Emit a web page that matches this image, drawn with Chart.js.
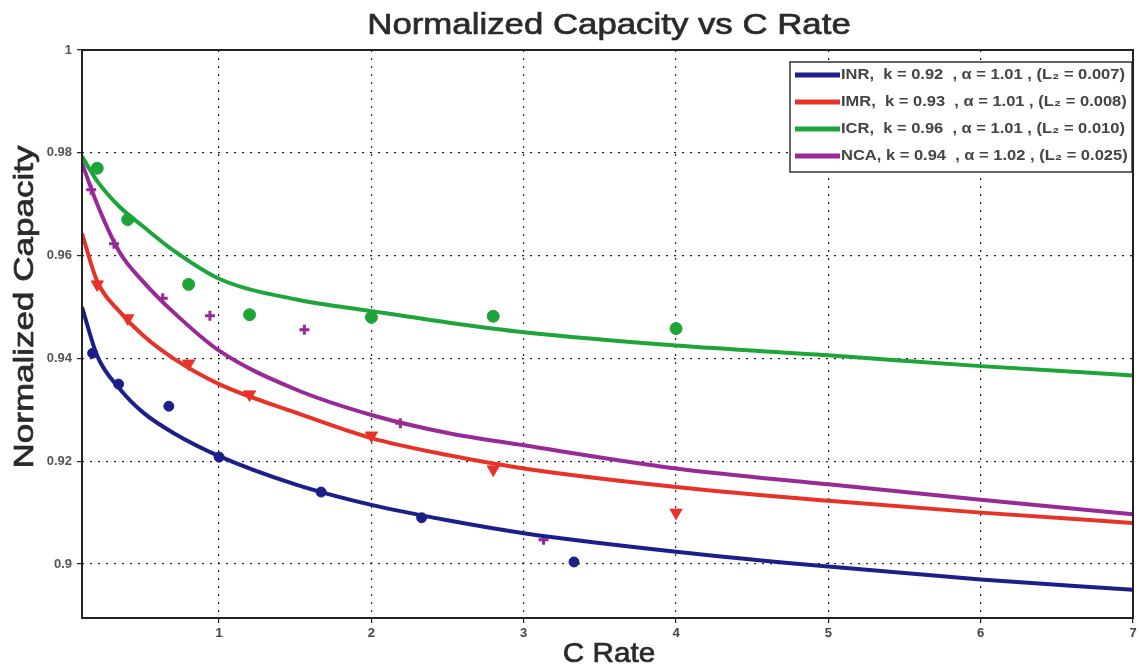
<!DOCTYPE html>
<html>
<head>
<meta charset="utf-8">
<script src="https://cdn.jsdelivr.net/npm/chart.js@4.4.1/dist/chart.umd.min.js"></script>
<style>
  html, body { margin: 0; padding: 0; background: #fff; }
  #myChart { display: block; }
</style>
</head>
<body>
<canvas id="myChart" width="1141" height="667"></canvas>
<script>
// fitted curves
const fitX = [0.1, 0.2, 0.35, 0.5, 0.7, 1, 1.5, 2, 2.5, 3, 4, 5, 6, 7];
const fitInr = [0.950, 0.9405, 0.934, 0.9295, 0.9255, 0.921, 0.9155, 0.9115, 0.9085, 0.906, 0.9024, 0.8995, 0.897, 0.895];
const fitImr = [0.9643, 0.955, 0.949, 0.9445, 0.940, 0.935, 0.9295, 0.9245, 0.9212, 0.9186, 0.915, 0.9123, 0.910, 0.908];
const fitIcr = [0.9793, 0.9745, 0.9694, 0.9657, 0.961, 0.9555, 0.9515, 0.9492, 0.947, 0.9451, 0.9425, 0.9406, 0.9385, 0.9367];
const fitNca = [0.978, 0.970, 0.9605, 0.955, 0.949, 0.9415, 0.934, 0.929, 0.9255, 0.9231, 0.9186, 0.9155, 0.9125, 0.9097];

// measured points
const inrX = [0.17, 0.34, 0.67, 1.0, 1.67, 2.33, 3.33];
const inrY = [0.941, 0.935, 0.9307, 0.9208, 0.914, 0.909, 0.9004];
const imrX = [0.2, 0.4, 0.8, 1.2, 2.0, 2.8, 4.0];
const imrY = [0.9544, 0.9478, 0.939, 0.933, 0.925, 0.9184, 0.910];
const icrX = [0.2, 0.4, 0.8, 1.2, 2.0, 2.8, 4.0];
const icrY = [0.977, 0.967, 0.9544, 0.9485, 0.948, 0.9482, 0.9458];
const ncaX = [0.16, 0.31, 0.63, 0.94, 1.56, 2.19, 3.13];
const ncaY = [0.9728, 0.9623, 0.9517, 0.9483, 0.9456, 0.9274, 0.9047];

const xTicks = [1, 2, 3, 4, 5, 6, 7];
const yTicks = [0.9, 0.92, 0.94, 0.96, 0.98, 1];
const legendLabels = [
  "INR,  k = 0.92  , \u03b1 = 1.01 , (L\u2082 = 0.007)",
  "IMR,  k = 0.93  , \u03b1 = 1.01 , (L\u2082 = 0.008)",
  "ICR,  k = 0.96  , \u03b1 = 1.01 , (L\u2082 = 0.010)",
  "NCA, k = 0.94  , \u03b1 = 1.02 , (L\u2082 = 0.025)"
];
const colors = ["#1c1f8a", "#e83228", "#1ea53a", "#982a98"];

function pts(xs, ys) {
  return xs.map((x, i) => ({ x: x, y: ys[i] }));
}

function fitSet(ys, color, label) {
  return {
    label: label, data: pts(fitX, ys), showLine: true,
    borderColor: color, backgroundColor: color, borderWidth: 4,
    pointRadius: 0, cubicInterpolationMode: "monotone"
  };
}

function markSet(xs, ys, color, style, rot, r, bw) {
  return {
    label: "", data: pts(xs, ys), showLine: false,
    borderColor: color, backgroundColor: color, borderWidth: bw,
    pointStyle: style, rotation: rot, pointRadius: r
  };
}

// text stretched a bit, the reference glyphs are wider than Liberation Sans
function stretchText(ctx, text, x, y, font, sx, rot, weight) {
  ctx.save();
  ctx.translate(x, y);
  ctx.rotate(rot);
  ctx.scale(sx, 1);
  ctx.font = font;
  ctx.fillText(text, 0, 0);
  if (weight) {
    ctx.strokeStyle = ctx.fillStyle;
    ctx.lineWidth = weight;
    ctx.strokeText(text, 0, 0);
  }
  ctx.restore();
}

const titles = {
  id: "titles",
  afterDraw(chart) {
    const ctx = chart.ctx;
    const a = chart.chartArea;
    ctx.save();
    ctx.fillStyle = "#2a2a2a";
    ctx.textAlign = "center";
    ctx.textBaseline = "alphabetic";
    stretchText(ctx, "Normalized Capacity vs C Rate", 609, 34, "30px 'Liberation Sans', Arial", 1.16, 0, 0.7);
    stretchText(ctx, "C Rate", 609, 662, "28px 'Liberation Sans', Arial", 1.06, 0, 0.7);
    stretchText(ctx, "Normalized Capacity", 33, 307, "28px 'Liberation Sans', Arial", 1.25, -Math.PI / 2, 0.7);

    // legend box inside the plot, top right
    const x0 = a.right - 343, y0 = a.top + 12, w = 342, h = 110;
    ctx.fillStyle = "#fff";
    ctx.fillRect(x0, y0, w, h);
    ctx.strokeStyle = "#333";
    ctx.lineWidth = 1.5;
    ctx.strokeRect(x0, y0, w, h);
    ctx.textAlign = "left";
    ctx.textBaseline = "middle";
    legendLabels.forEach((t, i) => {
      const y = y0 + 13 + i * 27;
      ctx.strokeStyle = colors[i];
      ctx.lineWidth = 5;
      ctx.beginPath();
      ctx.moveTo(x0 + 5, y);
      ctx.lineTo(x0 + 50, y);
      ctx.stroke();
      ctx.fillStyle = "#444";
      stretchText(ctx, t, x0 + 51, y, "bold 15px 'Liberation Sans', Arial", 1.1, 0, 0);
    });

    // plot frame
    ctx.strokeStyle = "#222";
    ctx.lineWidth = 2;
    ctx.strokeRect(a.left, a.top, a.right - a.left, a.bottom - a.top);
    ctx.restore();
  }
};

function initChart(target) {
  const data = {
    datasets: [
      fitSet(fitInr, colors[0], "INR"),
      fitSet(fitImr, colors[1], "IMR"),
      fitSet(fitIcr, colors[2], "ICR"),
      fitSet(fitNca, colors[3], "NCA"),
      markSet(inrX, inrY, colors[0], "circle", 0, 5, 1),
      markSet(imrX, imrY, colors[1], "triangle", 180, 7, 1),
      markSet(icrX, icrY, colors[2], "circle", 0, 6, 1),
      markSet(ncaX, ncaY, colors[3], "crossRot", 45, 5, 3)
    ]
  };

  const gridOpts = {
    color: "#222", lineWidth: 1.2, drawTicks: true, tickLength: 5
  };
  const tickFont = { family: "'Liberation Sans Narrow', 'Liberation Sans', Arial", size: 13, weight: "bold" };

  const config = {
    type: "scatter",
    data: data,
    options: {
      responsive: false,
      animation: false,
      layout: { padding: { left: 0, right: 3, top: 50, bottom: 0 } },
      plugins: {
        legend: { display: false },
        tooltip: { enabled: false },
        title: { display: false }
      },
      scales: {
        x: {
          type: "linear", min: 0.1, max: 7,
          afterBuildTicks: (s) => { s.ticks = xTicks.map((v) => ({ value: v })); },
          afterFit: (s) => { s.height = 49; s.paddingRight = 0; s.paddingLeft = 0; },
          grid: gridOpts,
          border: { display: false, dash: [2, 6] },
          ticks: { color: "#444", padding: 3, font: tickFont }
        },
        y: {
          type: "linear", min: 0.8895, max: 1,
          afterBuildTicks: (s) => { s.ticks = yTicks.map((v) => ({ value: v })); },
          afterFit: (s) => { s.width = 82; },
          grid: gridOpts,
          border: { display: false, dash: [2, 6] },
          ticks: {
            color: "#555", padding: 5, font: tickFont,
            callback: (v) => String(Math.round(v * 100) / 100)
          }
        }
      }
    },
    plugins: [titles]
  };

  return new Chart(target, config);
}

function mainEvent() {
  const chartTarget = document.querySelector("#myChart");
  initChart(chartTarget);
}

document.addEventListener("DOMContentLoaded", () => mainEvent());
</script>
</body>
</html>
